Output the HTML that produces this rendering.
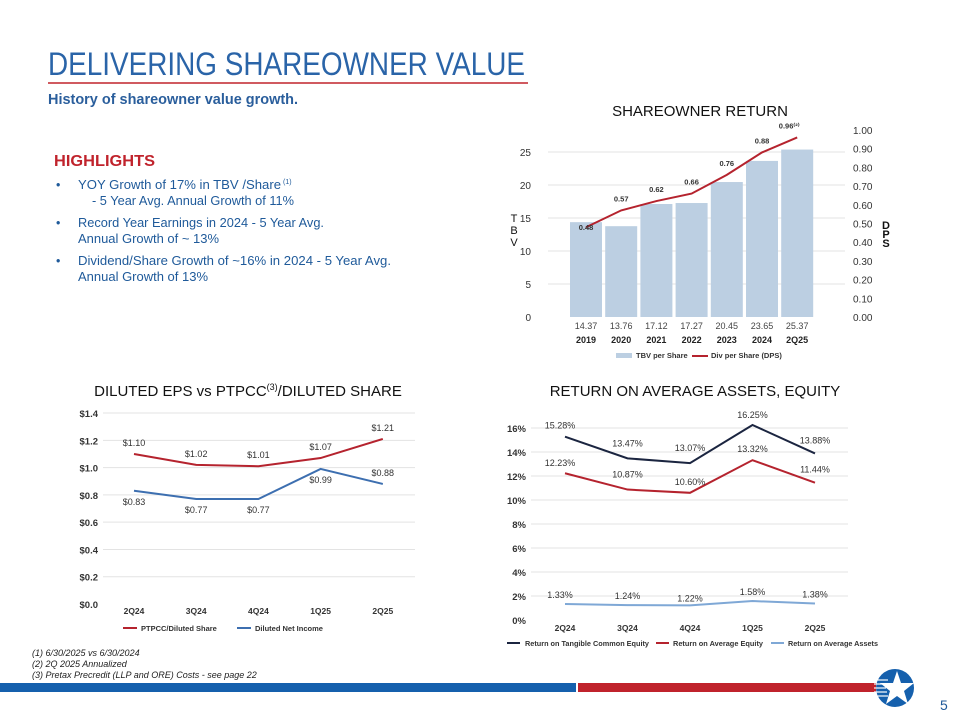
<!DOCTYPE html>
<html><head><meta charset="utf-8"><style>
html,body{margin:0;padding:0;background:#fff;}
svg{display:block;font-family:"Liberation Sans",sans-serif;}
</style></head><body>
<svg id="s" width="960" height="720" viewBox="0 0 960 720">
<text x="48" y="75" font-size="32" fill="#2a64a8" textLength="477" lengthAdjust="spacingAndGlyphs">DELIVERING SHAREOWNER VALUE</text>
<line x1="48" y1="83" x2="528" y2="83" stroke="#c0232c" stroke-width="1.5"/>
<text x="48" y="104" font-size="15" font-weight="bold" fill="#2a5e9c" textLength="250" lengthAdjust="spacingAndGlyphs">History of shareowner value growth.</text>
<text x="54" y="166" font-size="16" font-weight="bold" fill="#c0232c" textLength="101" lengthAdjust="spacingAndGlyphs">HIGHLIGHTS</text>
<g font-size="12.5" fill="#1f5a9a">
<text x="56" y="189">•</text><text x="78" y="189" textLength="203" lengthAdjust="spacingAndGlyphs">YOY Growth of 17% in TBV /Share</text><text x="283" y="184" font-size="7">(1)</text>
<text x="92" y="205" textLength="202" lengthAdjust="spacingAndGlyphs">- 5 Year Avg. Annual Growth of 11%</text>
<text x="56" y="227">•</text><text x="78" y="227" textLength="246" lengthAdjust="spacingAndGlyphs">Record Year Earnings in 2024 - 5 Year Avg.</text>
<text x="78" y="243" textLength="141" lengthAdjust="spacingAndGlyphs">Annual Growth of ~ 13%</text>
<text x="56" y="265">•</text><text x="78" y="265" textLength="313" lengthAdjust="spacingAndGlyphs">Dividend/Share Growth of ~16% in 2024 - 5 Year Avg.</text>
<text x="78" y="281" textLength="130" lengthAdjust="spacingAndGlyphs">Annual Growth of 13%</text>
</g>
<text x="700" y="116" font-size="15" fill="#111" text-anchor="middle">SHAREOWNER RETURN</text>
<text x="248" y="396" font-size="15" fill="#111" text-anchor="middle">DILUTED EPS vs PTPCC<tspan font-size="9" dy="-6">(3)</tspan><tspan dy="6">/DILUTED SHARE</tspan></text>
<text x="695" y="396" font-size="15" fill="#111" text-anchor="middle">RETURN ON AVERAGE ASSETS, EQUITY</text>
<g font-size="9" font-style="italic" fill="#222">
<text x="32" y="656">(1) 6/30/2025 vs 6/30/2024</text>
<text x="32" y="667">(2) 2Q 2025 Annualized</text>
<text x="32" y="678">(3) Pretax Precredit (LLP and ORE) Costs - see page 22</text>
</g>
<rect x="0" y="683" width="576" height="9" fill="#1560ad"/>
<rect x="578" y="683" width="298" height="9" fill="#c0232c"/>
<g>
<circle cx="895" cy="688" r="19" fill="#1560ad"/>
<g stroke="#fff" stroke-width="1.2"><line x1="874" y1="680" x2="888" y2="680"/><line x1="874" y1="684" x2="887" y2="684"/><line x1="874" y1="688" x2="886" y2="688"/><line x1="874" y1="692" x2="887" y2="692"/><line x1="875" y1="696" x2="888" y2="696"/></g>
<polygon points="897,671 901,683 914,683 904,691 908,704 897,696 886,704 890,691 880,683 893,683" fill="#fff"/>
</g>
<text x="940" y="710" font-size="14" fill="#1f5a9a">5</text>
<g id="c1"></g><g id="c2"></g><g id="c3"></g>
</svg>
<script>
const NS="http://www.w3.org/2000/svg";
function mk(p,t,a,txt){const e=document.createElementNS(NS,t);for(const k in a)e.setAttribute(k,a[k]);if(txt!==undefined)e.textContent=txt;p.appendChild(e);return e;}

// ---- Chart 1 data
const tbvYears=["2019","2020","2021","2022","2023","2024","2Q25"];
const tbvValues=[14.37,13.76,17.12,17.27,20.45,23.65,25.37];
const dpsValues=[0.48,0.57,0.62,0.66,0.76,0.88,0.96];
const tbvTicks=[0,5,10,15,20,25];
const dpsTicks=[0,0.1,0.2,0.3,0.4,0.5,0.6,0.7,0.8,0.9,1.0];
// ---- Chart 2 data
const epsQuarters=["2Q24","3Q24","4Q24","1Q25","2Q25"];
const ptpccValues=[1.10,1.02,1.01,1.07,1.21];
const netIncomeValues=[0.83,0.77,0.77,0.99,0.88];
const epsTicks=[0,0.2,0.4,0.6,0.8,1.0,1.2,1.4];
// ---- Chart 3 data
const retQuarters=["2Q24","3Q24","4Q24","1Q25","2Q25"];
const rotceValues=[15.28,13.47,13.07,16.25,13.88];
const roeValues=[12.23,10.87,10.60,13.32,11.44];
const roaValues=[1.33,1.24,1.22,1.58,1.38];
const retTicks=[0,2,4,6,8,10,12,14,16];

// Chart 1
(function(){
const g=document.getElementById('c1');
const y=v=>317-v*6.6, y2=v=>317-v*187, x=i=>586+i*35.2;
tbvTicks.forEach(t=>{
 if(t>0){const l=mk(g,'line',{x1:548,x2:845,y1:y(t),y2:y(t),stroke:'#e3e3e3'});}
 const tx=mk(g,'text',{x:531,y:y(t)+4,'font-size':10,fill:'#333','text-anchor':'end'},String(t));
 
});
dpsTicks.forEach(t=>{const tx=mk(g,'text',{x:853,y:y2(t)+4,'font-size':10,fill:'#333'},t.toFixed(2));
 });
tbvValues.forEach((v,i)=>{
 const r=mk(g,'rect',{x:x(i)-16,y:y(v),width:32,height:y(0)-y(v),fill:'#bccfe2'});
 
 const a=mk(g,'text',{x:x(i),y:329,'font-size':9,fill:'#444','text-anchor':'middle'},v.toFixed(2));
 
 const b=mk(g,'text',{x:x(i),y:343,'font-size':9,'font-weight':'bold',fill:'#222','text-anchor':'middle'},tbvYears[i]);
 
});
const p=mk(g,'polyline',{points:dpsValues.map((v,i)=>x(i)+','+y2(v)).join(' '),fill:'none',stroke:'#b5232e','stroke-width':2});

dpsValues.forEach((v,i)=>{const t=mk(g,'text',{x:x(i)-(i==6?8:0),y:y2(v)-(i==0?-3:9),'font-size':7.5,'font-weight':'bold',fill:'#333','text-anchor':'middle'},v.toFixed(2)+(i==6?'⁽²⁾':''));
 });
[['T',222],['B',234],['V',246]].forEach(a=>{const t=mk(g,'text',{x:514,y:a[1],'font-size':11,fill:'#111','text-anchor':'middle'},a[0]);});
[['D',229],['P',238],['S',247]].forEach(a=>{const t=mk(g,'text',{x:886,y:a[1],'font-size':11,'font-weight':'bold',fill:'#111','text-anchor':'middle'},a[0]);});
let r=mk(g,'rect',{x:616,y:353,width:16,height:5,fill:'#bccfe2'});
let t=mk(g,'text',{x:636,y:358,'font-size':7.5,'font-weight':'bold',fill:'#333'},'TBV per Share');
let l=mk(g,'line',{x1:692,x2:708,y1:356,y2:356,stroke:'#b5232e','stroke-width':2});
t=mk(g,'text',{x:711,y:358,'font-size':7.5,'font-weight':'bold',fill:'#333'},'Div per Share (DPS)');
})();

// Chart 2
(function(){
const g=document.getElementById('c2');
const y=v=>604-v*136.4, x=i=>134+i*62.2;
epsTicks.forEach(t=>{
 if(t>0){const l=mk(g,'line',{x1:103,x2:415,y1:y(t),y2:y(t),stroke:'#e3e3e3'});}
 const tx=mk(g,'text',{x:98,y:y(t)+4,'font-size':9.5,'font-weight':'bold',fill:'#333','text-anchor':'end'},'$'+t.toFixed(1));
 
});
epsQuarters.forEach((q,i)=>{const t=mk(g,'text',{x:x(i),y:614,'font-size':8.5,'font-weight':'bold',fill:'#333','text-anchor':'middle'},q);});
[[ptpccValues,'#b5232e','ptpcc-line',-8],[netIncomeValues,'#3d6fb0','net-income-line',14]].forEach(s=>{
 const p=mk(g,'polyline',{points:s[0].map((v,i)=>x(i)+','+y(v)).join(' '),fill:'none',stroke:s[1],'stroke-width':2});
 
 s[0].forEach((v,i)=>{let dy=s[3];if(s[2]=='net-income-line'&&i==4)dy=-8;if(s[2]=='net-income-line'&&i==3)dy=14;
  const t=mk(g,'text',{x:x(i),y:y(v)+dy,'font-size':9,fill:'#333','text-anchor':'middle'},'$'+v.toFixed(2));
  });
});
let l=mk(g,'line',{x1:123,x2:137,y1:628,y2:628,stroke:'#b5232e','stroke-width':2});
let t=mk(g,'text',{x:141,y:631,'font-size':7.5,'font-weight':'bold',fill:'#333'},'PTPCC/Diluted Share');
l=mk(g,'line',{x1:237,x2:251,y1:628,y2:628,stroke:'#3d6fb0','stroke-width':2});
t=mk(g,'text',{x:255,y:631,'font-size':7.5,'font-weight':'bold',fill:'#333'},'Diluted Net Income');
})();

// Chart 3
(function(){
const g=document.getElementById('c3');
const y=v=>620-v*12, x=i=>565+i*62.5;
retTicks.forEach(t=>{
 if(t>0){const l=mk(g,'line',{x1:531,x2:848,y1:y(t),y2:y(t),stroke:'#e3e3e3'});}
 const tx=mk(g,'text',{x:526,y:y(t)+4,'font-size':9.5,'font-weight':'bold',fill:'#333','text-anchor':'end'},t+'%');
 
});
retQuarters.forEach((q,i)=>{const t=mk(g,'text',{x:x(i),y:631,'font-size':8.5,'font-weight':'bold',fill:'#333','text-anchor':'middle'},q);});
[[rotceValues,'#1b2540','rotce-line',[-8,-12,-12,-7,-10]],[roeValues,'#b5232e','roe-line',[-7,-12,-8,-8,-10]],[roaValues,'#7fa8d6','roa-line',[-6,-6,-4,-6,-6]]].forEach(s=>{
 const p=mk(g,'polyline',{points:s[0].map((v,i)=>x(i)+','+y(v)).join(' '),fill:'none',stroke:s[1],'stroke-width':2});
 
 s[0].forEach((v,i)=>{const t=mk(g,'text',{x:x(i)+(i==0?-5:0),y:y(v)+s[3][i],'font-size':9,fill:'#333','text-anchor':'middle'},v.toFixed(2)+'%');
  });
});
const leg=[[507,525,124,'#1b2540','Return on Tangible Common Equity'],[656,673,90,'#b5232e','Return on Average Equity'],[771,788,90,'#7fa8d6','Return on Average Assets']];
leg.forEach(a=>{const l=mk(g,'line',{x1:a[0],x2:a[0]+13,y1:643,y2:643,stroke:a[3],'stroke-width':2});
 const t=mk(g,'text',{x:a[1],y:646,'font-size':7.5,'font-weight':'bold',fill:'#333',textLength:a[2],lengthAdjust:'spacingAndGlyphs'},a[4]);});
})();
</script>
</body></html>
